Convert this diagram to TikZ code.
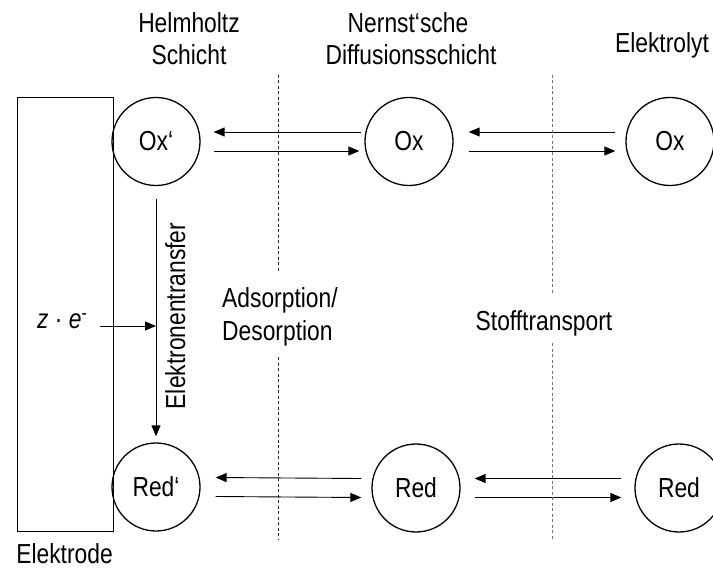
\documentclass[tikz,border=0pt]{standalone}
\usepackage{fontspec}
\setmainfont{Liberation Sans}[FakeStretch=0.83]
\usetikzlibrary{arrows.meta,calc}
\begin{document}
\begin{tikzpicture}[x=1bp,y=-1bp,
  every node/.style={font=\fontsize{27.5bp}{32bp}\selectfont, inner sep=0pt},
  mol/.style={circle, draw, line width=1.3bp, minimum size=88bp},
  arr/.style={line width=0.9bp, -{Triangle[length=11bp,width=9bp]}},
  sepline/.style={dash pattern=on 3bp off 2.5bp, line width=0.9bp}]
\useasboundingbox (0,0) rectangle (713,568);
\node[draw, line width=1.3bp, minimum width=96bp, minimum height=434bp, anchor=north west] (el) at (17,97) {};
\node[anchor=base] (elt) at (64.5,563) {Elektrode};
\node[mol] (oxp) at (156,141.5) {Ox‘};
\node[mol] (oxm) at (409,141.5) {Ox};
\node[mol] (oxr) at (670,141.5) {Ox};
\node[mol] (redp) at (156,487) {Red‘};
\node[mol] (redm) at (416,488) {Red};
\node[mol] (redr) at (679,488) {Red};
% Ox row
\draw[arr] ($(oxm.west)+(-3,-9.5)$) -- ($(oxp.east)+(13,-9.5)$);
\draw[arr] ($(oxp.east)+(13,9.5)$) -- ($(oxm.west)+(-5,9.5)$);
\draw[arr] ($(oxr.west)+(-10,-9.5)$) -- ($(oxm.east)+(15,-9.5)$);
\draw[arr] ($(oxm.east)+(15,9.5)$) -- ($(oxr.west)+(-10,9.5)$);
% Red row
\draw[arr] ($(redm.west)+(-10,-9.5)$) -- ($(redp.east)+(15,-9.5)$);
\draw[arr] ($(redp.east)+(15,9.5)$) -- ($(redm.west)+(-10,9.5)$);
\draw[arr] ($(redr.west)+(-13,-9.5)$) -- ($(redm.east)+(14,-9.5)$);
\draw[arr] ($(redm.east)+(14,9.5)$) -- ($(redr.west)+(-13,9.5)$);
% electron transfer
\draw[arr] ($(oxp.south)+(0,13)$) -- ($(redp.north)+(0,-6)$);
\coordinate (zs) at (100,326);
\coordinate (zt) at (156,326);
\draw[arr] (zs) -- (zt);
% separators
\draw[sepline, black!85] (278,75) -- (278,272);
\draw[sepline, black!85] (278,357) -- (278,540);
\draw[sepline, black!55] (552,75) -- (552,293);
\draw[sepline, black!55] (552,343) -- (552,540);
% texts
\node[anchor=base] (h1) at (189,33) {Helmholtz};
\node[anchor=base] (h2) at (189,65) {Schicht};
\node[anchor=base] (n1) at (408,33) {Nernst‘sche};
\node[anchor=base] (n2) at (411,65) {Diffusionsschicht};
\node[anchor=base] (e1) at (662,53) {Elektrolyt};
\node[anchor=base west] (a1) at (222,307) {Adsorption/};
\node[anchor=base west] (a2) at (222,340) {Desorption};
\node[anchor=base] (st) at (544,330) {Stofftransport};
\node[anchor=base west] (ze) at (37,328) {\textit{z} · \textit{e}\textsuperscript{-}};
\node[rotate=90, anchor=base] (et) at (185,316) {Elektronentransfer};
\end{tikzpicture}
\end{document}
